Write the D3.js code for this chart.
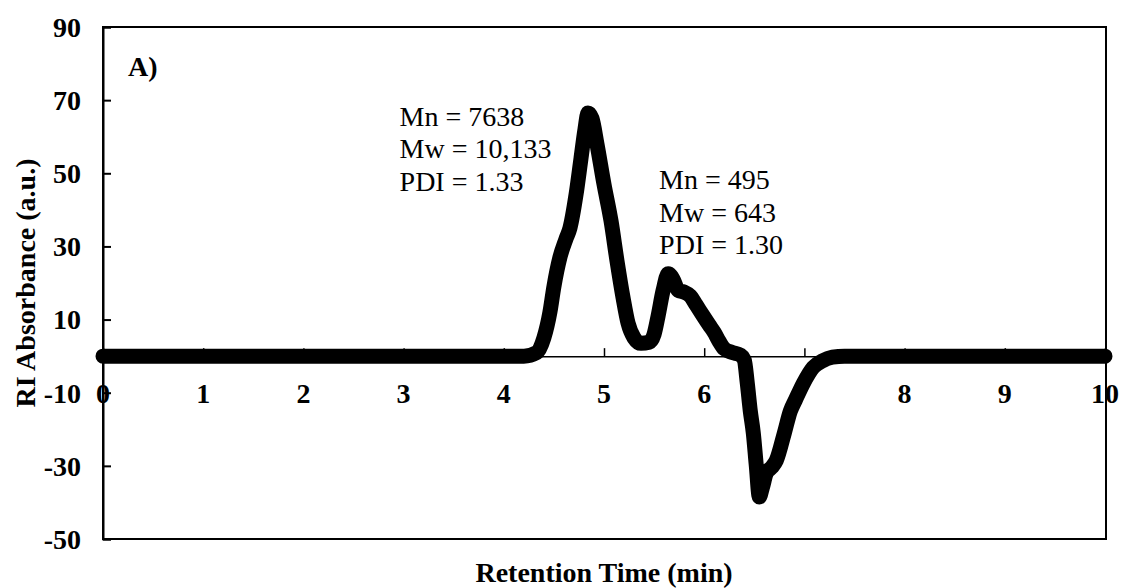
<!DOCTYPE html>
<html>
<head>
<meta charset="utf-8">
<script src="https://cdn.jsdelivr.net/npm/d3@7"></script>
<style>
  html, body { margin: 0; padding: 0; background: #fff; }
  svg { display: block; }
  text { font-family: "Liberation Serif", "Times New Roman", serif; fill: #000; }
</style>
</head>
<body>
<svg id="chart" width="1125" height="588"></svg>
<script>
// Retention time (min) of the RI trace
const retentionTime = [
  0, 0.5, 1, 1.5, 2, 2.5, 3, 3.5, 4, 4.2, 4.33, 4.40, 4.46, 4.50, 4.56, 4.62, 4.66,
  4.72, 4.77, 4.81, 4.84, 4.88, 4.93, 5.00, 5.07, 5.13, 5.19, 5.24, 5.30, 5.37,
  5.45, 5.50, 5.54, 5.59, 5.64, 5.69, 5.74, 5.80, 5.86, 5.92, 5.99, 6.05, 6.10,
  6.15, 6.20, 6.28, 6.36, 6.40, 6.43, 6.46, 6.49, 6.52, 6.55, 6.58, 6.62, 6.67,
  6.72, 6.80, 6.86, 6.91, 6.99, 7.09, 7.18, 7.28, 7.40, 8, 9, 10
];
// RI absorbance (a.u.)
const riSignal = [
  0, 0, 0, 0, 0, 0, 0, 0, 0, 0, 1, 5, 12, 19, 27, 32, 35,
  44, 54, 62, 66.5, 65, 58, 47, 37, 26, 16, 9, 5, 3.5,
  3.8, 6, 11, 18, 22.5, 21, 18, 17.5, 16.5, 14, 11, 8.5, 6.5,
  4, 2, 1, 0.3, -1, -7.4, -15, -21, -30, -38.5, -36, -32, -30.5,
  -28.5, -21, -15, -12, -7.4, -3, -1.3, -0.3, 0, 0, 0, 0
];

const xTicks = [0, 1, 2, 3, 4, 5, 6, 7, 8, 9, 10];
const xTickLabels = ["0", "1", "2", "3", "4", "5", "6", "", "8", "9", "10"];
const yTicks = [90, 70, 50, 30, 10, -10, -30, -50];

const peakLabels = [
  ["Mn = 7638", "Mw = 10,133", "PDI = 1.33"],
  ["Mn = 495", "Mw = 643", "PDI = 1.30"]
];
const peakLabelAnchors = [[2.96, 63.0], [5.55, 45.6]];

const svg = d3.select("#chart");
const plotLeft = 103, plotRight = 1105, plotTop = 27, plotBottom = 539;

const x = d3.scaleLinear().domain([0, 10]).range([plotLeft, plotRight]);
const y = d3.scaleLinear().domain([-50, 90]).range([plotBottom, plotTop]);

// plot area border
svg.append("rect")
  .attr("x", plotLeft).attr("y", plotTop)
  .attr("width", plotRight - plotLeft + 1).attr("height", plotBottom - plotTop)
  .attr("fill", "none").attr("stroke", "#000").attr("stroke-width", 2);

// y axis (ticks inside, labels on the left)
const yAxis = svg.append("g").attr("transform", `translate(${plotLeft},0)`)
  .call(d3.axisRight(y).tickValues(yTicks).tickSize(8).tickFormat(""));
yAxis.select(".domain").attr("stroke", "#000").attr("stroke-width", 2);
yAxis.selectAll(".tick line").attr("stroke", "#000").attr("stroke-width", 2);

svg.append("g").selectAll("text")
  .data(yTicks).join("text")
  .attr("x", plotLeft - 22).attr("y", d => y(d))
  .attr("dy", "0.35em")
  .attr("text-anchor", "end")
  .attr("font-size", 28).attr("font-weight", "bold")
  .text(d => d);

// x axis crossing at zero, ticks pointing up
const xAxis = svg.append("g").attr("transform", `translate(0,${y(0)})`)
  .call(d3.axisTop(x).tickValues(xTicks).tickSize(8).tickSizeOuter(0).tickFormat(""));
xAxis.select(".domain").attr("stroke", "#000").attr("stroke-width", 1.5);
xAxis.selectAll(".tick line").attr("stroke", "#000").attr("stroke-width", 1.5);

svg.append("g").selectAll("text")
  .data(xTicks).join("text")
  .attr("x", d => x(d)).attr("y", y(-10))
  .attr("dy", "0.35em")
  .attr("text-anchor", "middle")
  .attr("font-size", 28).attr("font-weight", "bold")
  .text((d, i) => xTickLabels[i]);

// RI trace
const line = d3.line()
  .x(d => x(d[0])).y(d => y(d[1]))
  .curve(d3.curveMonotoneX);

svg.append("path")
  .datum(retentionTime.map((t, i) => [t, riSignal[i]]))
  .attr("d", line)
  .attr("fill", "none")
  .attr("stroke", "#000")
  .attr("stroke-width", 15)
  .attr("stroke-linejoin", "round")
  .attr("stroke-linecap", "round");

// left axis line drawn over the "0" label
svg.append("line")
  .attr("x1", plotLeft).attr("x2", plotLeft).attr("y1", plotTop).attr("y2", plotBottom)
  .attr("stroke", "#000").attr("stroke-width", 2);

// molecular weight annotations
peakLabels.forEach((lines, k) => {
  const t = svg.append("text")
    .attr("x", x(peakLabelAnchors[k][0]))
    .attr("y", y(peakLabelAnchors[k][1]))
    .attr("font-size", 28);
  lines.forEach((s, j) => {
    t.append("tspan")
      .attr("x", x(peakLabelAnchors[k][0]))
      .attr("dy", j === 0 ? 0 : 32.5)
      .text(s);
  });
});

// panel label
svg.append("text")
  .attr("x", 128).attr("y", 76)
  .attr("font-size", 28).attr("font-weight", "bold")
  .text("A)");

// axis titles
svg.append("text")
  .attr("x", (plotLeft + plotRight) / 2).attr("y", 582)
  .attr("text-anchor", "middle")
  .attr("font-size", 28).attr("font-weight", "bold")
  .text("Retention Time (min)");

svg.append("text")
  .attr("transform", `translate(35,${(plotTop + plotBottom) / 2}) rotate(-90)`)
  .attr("text-anchor", "middle")
  .attr("font-size", 28).attr("font-weight", "bold")
  .text("RI Absorbance (a.u.)");
</script>
</body>
</html>
